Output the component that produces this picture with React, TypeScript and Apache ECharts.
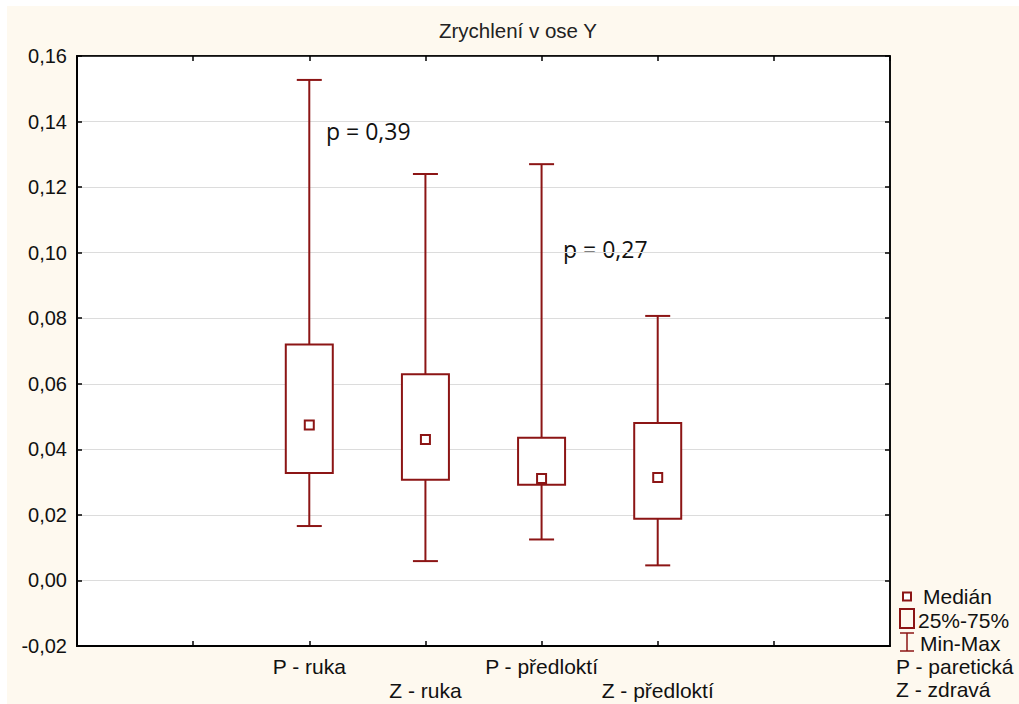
import React, { useEffect, useRef } from "react";
import * as echarts from "echarts";

// Box plot data: acceleration along the Y axis (min, quartiles, median, max)
const categories = ["P - ruka", "Z - ruka", "P - předloktí", "Z - předloktí"];
const positions = [2, 3, 4, 5];
const minVals = [0.0166, 0.0059, 0.0125, 0.0046];
const q1Vals = [0.0328, 0.0307, 0.0292, 0.0188];
const medianVals = [0.0474, 0.043, 0.0311, 0.0314];
const q3Vals = [0.072, 0.0629, 0.0435, 0.048];
const maxVals = [0.1527, 0.124, 0.127, 0.0807];

const yTicks = { min: -0.02, max: 0.16, step: 0.02 };
const pLabels = ["p = 0,39", "p = 0,27"];

const RED = "#8C1515";
const BG = "#FEF9EF";
const FONT = "'Liberation Sans', Arial, sans-serif";

export default function App() {
  const ref = useRef<HTMLDivElement>(null);

  useEffect(() => {
    if (!ref.current) return;
    const chart = echarts.init(ref.current, undefined, { renderer: "svg" });

    const data = positions.map((p, i) => [
      p,
      minVals[i],
      q1Vals[i],
      medianVals[i],
      q3Vals[i],
      maxVals[i],
    ]);

    const xLabel = (v: number) => {
      const idx = positions.indexOf(Math.round(v));
      if (idx < 0 || Math.abs(v - Math.round(v)) > 1e-6) return "";
      return idx % 2 === 1 ? "\n" + categories[idx] : categories[idx];
    };

    const yLabel = (v: number) =>
      Math.abs(v) < 1e-9 ? "0,00" : v.toFixed(2).replace(".", ",");

    const axisLine = { show: true, onZero: false, lineStyle: { color: "#000", width: 2 } };
    const thinLine = { show: true, onZero: false, lineStyle: { color: "#000", width: 1.5 } };
    const axisTick = { show: true, inside: true, length: 5, lineStyle: { color: "#000", width: 1.5 } };

    const legendText = (x: number, y: number, text: string) => ({
      type: "text",
      x,
      y,
      style: { text, fill: "#111", font: `21px ${FONT}`, textVerticalAlign: "middle" },
    });

    chart.setOption({
      animation: false,
      backgroundColor: BG,
      grid: {
        left: 70,
        top: 50,
        right: 129,
        bottom: 58,
        show: true,
        backgroundColor: "#fff",
        borderColor: "#000",
        borderWidth: 1.5,
      },
      xAxis: [
        {
          type: "value",
          min: 0,
          max: 7,
          interval: 1,
          position: "bottom",
          axisLine,
          axisTick,
          splitLine: { show: false },
          axisLabel: {
            formatter: xLabel,
            fontSize: 21,
            fontFamily: FONT,
            color: "#111",
            lineHeight: 24,
            margin: 8,
            showMinLabel: false,
            showMaxLabel: false,
          },
        },
        {
          type: "value",
          min: 0,
          max: 7,
          interval: 1,
          position: "top",
          axisLine: thinLine,
          axisTick,
          splitLine: { show: false },
          axisLabel: { show: false },
        },
      ],
      yAxis: [
        {
          type: "value",
          min: yTicks.min,
          max: yTicks.max,
          interval: yTicks.step,
          position: "left",
          axisLine,
          axisTick,
          splitLine: { show: true, lineStyle: { color: "#DCDCDC", width: 1 } },
          axisLabel: {
            formatter: yLabel,
            fontSize: 20,
            fontFamily: FONT,
            color: "#111",
            margin: 10,
          },
        },
        {
          type: "value",
          min: yTicks.min,
          max: yTicks.max,
          interval: yTicks.step,
          position: "right",
          axisLine: thinLine,
          axisTick,
          splitLine: { show: false },
          axisLabel: { show: false },
        },
      ],
      series: [
        {
          type: "custom",
          xAxisIndex: 0,
          yAxisIndex: 0,
          silent: true,
          encode: { x: 0, y: [1, 2, 3, 4, 5] },
          data,
          renderItem: (_params: any, api: any) => {
            const x = api.value(0);
            const [cx, yMin] = api.coord([x, api.value(1)]);
            const yQ1 = api.coord([x, api.value(2)])[1];
            const yMed = api.coord([x, api.value(3)])[1];
            const yQ3 = api.coord([x, api.value(4)])[1];
            const yMax = api.coord([x, api.value(5)])[1];
            const boxW = 47;
            const capW = 25;
            const med = 9;
            const ls = { stroke: RED, lineWidth: 2, fill: "none" };
            return {
              type: "group",
              children: [
                { type: "line", shape: { x1: cx, y1: yMax, x2: cx, y2: yQ3 }, style: ls },
                { type: "line", shape: { x1: cx, y1: yQ1, x2: cx, y2: yMin }, style: ls },
                { type: "line", shape: { x1: cx - capW / 2, y1: yMax, x2: cx + capW / 2, y2: yMax }, style: ls },
                { type: "line", shape: { x1: cx - capW / 2, y1: yMin, x2: cx + capW / 2, y2: yMin }, style: ls },
                {
                  type: "rect",
                  shape: { x: cx - boxW / 2, y: yQ3, width: boxW, height: yQ1 - yQ3 },
                  style: { stroke: RED, lineWidth: 2, fill: "#fff" },
                },
                {
                  type: "rect",
                  shape: { x: cx - med / 2, y: yMed - med / 2, width: med, height: med },
                  style: { stroke: RED, lineWidth: 2, fill: "#fff" },
                },
              ],
            };
          },
        },
      ],
      graphic: [
        {
          type: "text",
          x: 511,
          y: 24,
          style: {
            text: "Zrychlení v ose Y",
            fill: "#222",
            font: `20.5px ${FONT}`,
            textAlign: "center",
            textVerticalAlign: "middle",
          },
        },
        {
          type: "text",
          x: 319,
          y: 125,
          style: { text: pLabels[0], fill: "#111", font: "23px 'Open Sans', sans-serif", textVerticalAlign: "middle" },
        },
        {
          type: "text",
          x: 556,
          y: 243,
          style: { text: pLabels[1], fill: "#111", font: "23px 'Open Sans', sans-serif", textVerticalAlign: "middle" },
        },
        // legend icons
        {
          type: "rect",
          shape: { x: 896, y: 586.5, width: 8, height: 8 },
          style: { stroke: RED, lineWidth: 2, fill: "#fff" },
        },
        {
          type: "rect",
          shape: { x: 893, y: 603, width: 14, height: 19 },
          style: { stroke: RED, lineWidth: 2, fill: "none" },
        },
        { type: "line", shape: { x1: 900, y1: 627, x2: 900, y2: 645 }, style: { stroke: RED, lineWidth: 1.5 } },
        { type: "line", shape: { x1: 893, y1: 627, x2: 907, y2: 627 }, style: { stroke: RED, lineWidth: 1.5 } },
        { type: "line", shape: { x1: 893, y1: 645, x2: 907, y2: 645 }, style: { stroke: RED, lineWidth: 1.5 } },
        legendText(916, 590, "Medián"),
        legendText(911, 614, "25%-75%"),
        legendText(913, 637, "Min-Max"),
        legendText(889, 660, "P - paretická"),
        legendText(889, 683, "Z - zdravá"),
      ],
    });

    return () => chart.dispose();
  }, []);

  return (
    <div
      ref={ref}
      style={{ position: "fixed", left: 7, top: 6, width: 1012, height: 698, background: BG }}
    />
  );
}
